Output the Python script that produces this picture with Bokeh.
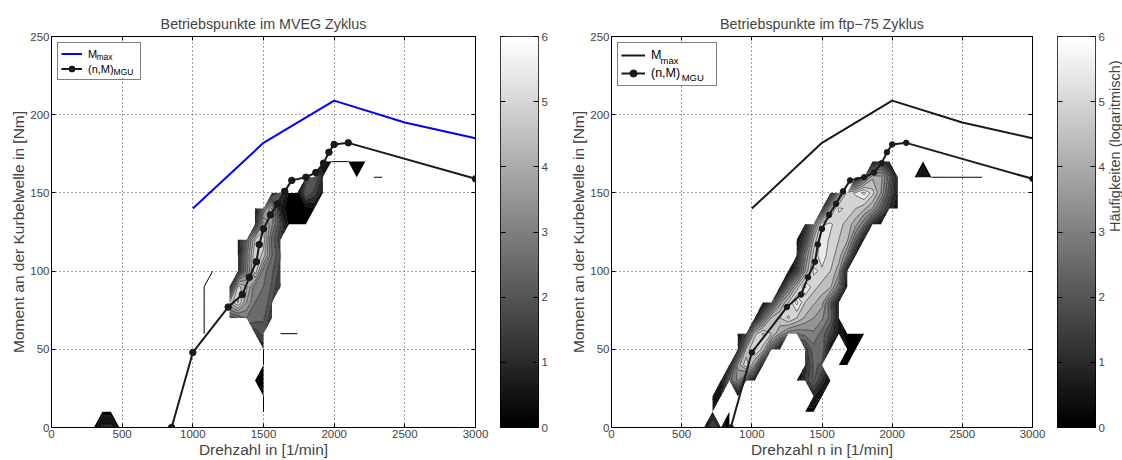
import numpy as np
from bokeh.plotting import figure
from bokeh.layouts import row
from bokeh.core.properties import value
from bokeh.models import (Range1d, FixedTicker, LinearAxis, LinearColorMapper,
                          Legend, LegendItem, BoxAnnotation)
from bokeh.embed import file_html
from bokeh.resources import INLINE

FONT = "Liberation Sans"

# axis ticks
speed_ticks = [0, 500, 1000, 1500, 2000, 2500, 3000]
torque_ticks = [0, 50, 100, 150, 200, 250]
cbar_ticks = [0, 1, 2, 3, 4, 5, 6]

# full-load torque curve
mmax_speed = [1000, 1500, 2000, 2500, 3000]
mmax_torque = [140, 182, 209, 195, 185]

# operating line of the MGU
mgu_speed = [850, 1000, 1250, 1350, 1400, 1450, 1470, 1500, 1550, 1600, 1650,
             1700, 1800, 1870, 1925, 1963, 2000, 2100, 3000]
mgu_torque = [0, 48, 77, 85, 96, 106, 117, 127, 136, 143, 151,
              158, 160, 163, 169, 176, 181, 182, 159]

# histogram bins: 60 rpm x 10 Nm
SPEED_STEP = 60
TORQUE_STEP = 10
speed_bins = np.arange(0, 3000 + SPEED_STEP, SPEED_STEP)
torque_bins = np.arange(0, 250 + TORQUE_STEP, TORQUE_STEP)

# MVEG cycle: log10 frequency per bin, one run of bins per entry
mveg_torque = [0, 10, 10, 20, 30, 40, 50, 60, 60, 60, 70, 70, 80, 80, 90, 90,
               100, 100, 110, 120, 130, 140, 150, 160, 160, 160, 170]
mveg_start = [300, 360, 1500, 1500, 1440, 1500, 1500, 1080, 1440, 1620, 1080, 1260, 1080, 1260, 1080, 1260,
              1140, 1320, 1320, 1320, 1440, 1440, 1560, 1800, 2160, 2280, 1920]
mveg_logh = [
    [0.2, 1.2, 1.2, 0.2],
    [0.3, 0.3],
    [0.3],
    [0.3],
    [0.3, 0.5],
    [0.3],
    [1.0],
    [0.2],
    [1.6, 2.2],
    [0.2, 0.2, 0.2],
    [0.2],
    [2.2, 2.6, 3.0, 2.8, 2.6, 1.6],
    [0.2],
    [4.6, 5.6, 4.0, 3.0, 3.0, 2.0],
    [0.2],
    [1.4, 5.2, 4.6, 3.2, 3.0, 2.4, 1.4],
    [0.2],
    [1.2, 3.2, 5.4, 3.2, 2.6, 1.8],
    [1.0, 3.4, 5.5, 4.8, 3.0, 2.0],
    [1.0, 2.8, 5.0, 5.3, 2.8, 1.6],
    [1.4, 4.8, 3.6, 2.0, 0.3, 0.2, 0.3],
    [0.8, 3.0, 4.6, 0.8, 0.2, 0.1, 0.2, 0.5],
    [1.0, 2.5, 0.3, 0.2, 2.6, 1.8, 0.6],
    [1.6, 2.6, 1.2],
    [0.2],
    [0.2, 0.2],
    [0.3, 0.4, 0.3, 0.3, 0.3, 0.3],
]

# ftp-75 cycle
ftp_torque = [0, 10, 10, 20, 20, 30, 30, 40, 40, 50, 50, 60, 70, 80, 90,
              100, 110, 120, 130, 140, 150, 160, 160, 170, 170]
ftp_start = [660, 720, 1380, 720, 1440, 780, 1320, 840, 1380, 900, 1380, 900, 1020, 1080, 1200,
             1260, 1320, 1320, 1380, 1500, 1560, 1740, 2160, 1860, 2220]
ftp_logh = [
    [0.3, 2.2, 0.8, 0.3],
    [0.8, None, 0.3],
    [0.3, 0.3],
    [0.4, 1.0, None, 0.3],
    [1.0, 0.4],
    [0.5, 2.8, 3.6, 2.0, 0.4],
    [0.3, 1.6, 2.6, 1.4, 0.3],
    [1.0, 4.2, 5.4, 4.0, 1.0],
    [1.2, 2.6, 2.4, None, 0.3, 0.2],
    [1.2, 4.6, 5.6, 4.8, 2.4, 0.6],
    [1.6, 2.8, 3.0, 0.4, None, 0.4, 0.2],
    [0.4, 2.0, 4.8, 5.6, 5.0, 4.0, 3.2, 3.0, 3.2, 3.4, 2.8, 1.8, 0.8, 0.3, 0.5, 0.2],
    [0.6, 2.8, 4.6, 5.0, 5.6, 5.0, 4.4, 4.0, 3.6, 2.8, 0.6],
    [0.4, 1.8, 3.8, 5.0, 6.2, 5.0, 4.6, 4.2, 2.6, 0.6],
    [0.8, 3.0, 4.6, 6.1, 5.2, 4.8, 4.6, 3.2, 0.6],
    [0.3, 1.8, 4.0, 5.6, 5.4, 5.0, 4.2, 0.8],
    [1.0, 3.4, 5.2, 5.8, 5.2, 4.8, 3.4, 0.6],
    [0.3, 2.0, 4.6, 5.8, 5.4, 5.0, 4.6, 2.8, 0.6],
    [1.0, 3.2, 5.4, 5.6, 5.2, 4.8, 4.2, 3.0, 1.2, 0.4],
    [1.6, 4.2, 5.6, 5.4, 5.0, 4.6, 4.0, 2.6, 1.4, 0.6],
    [1.0, 3.4, 5.2, 5.6, 6.2, 5.2, 4.0, 2.2, 0.8],
    [0.8, 2.8, 4.4, 4.2, 2.6, 0.8],
    [0.3, 1.0, 0.3, 0.2, 0.2, 0.2, 0.2, 0.2, 0.2],
    [0.6, 1.8, 0.6],
    [0.3],
]

levels = list(np.arange(0.0, 6.01, 0.5))
band_colors = ["#%02x%02x%02x" % ((int(round(255 * lv / 6)),) * 3) for lv in levels[:-1]]
gray64 = ["#%02x%02x%02x" % ((int(round(255 * k / 63)),) * 3) for k in range(64)]


def build_grid(torques, starts, values):
    z = np.full((len(torque_bins), len(speed_bins)), np.nan)
    for m, n0, vals in zip(torques, starts, values):
        i = int(round(m / TORQUE_STEP))
        j0 = int(round(n0 / SPEED_STEP))
        for k, v in enumerate(vals):
            if v is not None:
                z[i, j0 + k] = v
    return z


def stray_segments(z):
    """Bin chains that enclose no area; contourf shows them as plain lines."""
    ok = ~np.isnan(z)
    ny, nx = z.shape

    def count(i, j):
        if i < 0 or j < 0 or i >= ny - 1 or j >= nx - 1:
            return 0
        return int(ok[i, j]) + int(ok[i + 1, j]) + int(ok[i, j + 1]) + int(ok[i + 1, j + 1])

    def in_area(i, j):
        return any(count(a, b) >= 3 for a in (i - 1, i) for b in (j - 1, j))

    xs, ys = [], []
    for i in range(ny):
        for j in range(nx - 1):
            if ok[i, j] and ok[i, j + 1] and count(i - 1, j) < 3 and count(i, j) < 3:
                xs.append([speed_bins[j], speed_bins[j + 1]])
                ys.append([torque_bins[i], torque_bins[i]])
    for i in range(ny - 1):
        for j in range(nx):
            if ok[i, j] and ok[i + 1, j] and count(i, j - 1) < 3 and count(i, j) < 3:
                xs.append([speed_bins[j], speed_bins[j]])
                ys.append([torque_bins[i], torque_bins[i + 1]])
    for i in range(ny - 1):
        for j in range(nx - 1):
            if count(i, j) != 2:
                continue
            if ok[i, j] and ok[i + 1, j + 1] and not (in_area(i, j) or in_area(i + 1, j + 1)):
                xs.append([speed_bins[j], speed_bins[j + 1]])
                ys.append([torque_bins[i], torque_bins[i + 1]])
            elif ok[i + 1, j] and ok[i, j + 1] and not (in_area(i + 1, j) or in_area(i, j + 1)):
                xs.append([speed_bins[j], speed_bins[j + 1]])
                ys.append([torque_bins[i + 1], torque_bins[i]])
    return xs, ys


def make_panel(title, xlabel, z, mmax_color, marker_size, border_left, frame_w,
               leg, sub_max, sub_mgu, sub_size):
    p = figure(frame_width=frame_w, frame_height=391, output_backend="svg", toolbar_location=None,
               x_range=Range1d(0, 3000), y_range=Range1d(0, 250),
               min_border_left=border_left, min_border_top=36, min_border_bottom=33,
               min_border_right=25, background_fill_color="white",
               border_fill_color="white")
    p.title.text = title
    p.title.align = "center"
    p.title.text_font = FONT
    p.title.text_font_size = "14.3px"
    p.title.text_font_style = "normal"
    p.title.standoff = 9

    p.outline_line_color = "black"
    p.outline_line_width = 1
    p.outline_line_alpha = 1

    for ax, ticks in ((p.xaxis[0], speed_ticks), (p.yaxis[0], torque_ticks)):
        ax.ticker = FixedTicker(ticks=ticks)
        ax.major_tick_in = 4
        ax.major_tick_out = 0
        ax.minor_tick_line_color = None
        ax.axis_line_color = None
        ax.major_label_text_font = FONT
        ax.major_label_text_font_size = "11.5px"
        ax.axis_label_text_font = FONT
        ax.axis_label_text_font_size = "15.5px"
        ax.axis_label_text_font_style = "normal"
        ax.major_label_standoff = 2
        ax.axis_label_standoff = 0
    p.xaxis.axis_label = xlabel
    p.yaxis.axis_label = "Moment an der Kurbelwelle in [Nm]"

    p.add_layout(LinearAxis(ticker=FixedTicker(ticks=speed_ticks), major_tick_in=4,
                            major_tick_out=0, minor_tick_line_color=None,
                            axis_line_color=None, major_label_text_color=None), "above")
    p.add_layout(LinearAxis(ticker=FixedTicker(ticks=torque_ticks), major_tick_in=4,
                            major_tick_out=0, minor_tick_line_color=None,
                            axis_line_color=None, major_label_text_color=None), "right")

    p.xgrid.ticker = FixedTicker(ticks=speed_ticks)
    p.ygrid.ticker = FixedTicker(ticks=torque_ticks)
    p.grid.grid_line_color = "#444444"
    p.grid.grid_line_dash = "1 3"
    p.grid.grid_line_width = 1

    # white backing of the legend box (keeps the dotted grid out of it)
    p.add_layout(BoxAnnotation(left=leg["box"][0], right=leg["box"][1],
                               bottom=leg["box"][2], top=leg["box"][3],
                               fill_color="white", fill_alpha=1, line_color=None,
                               level="underlay"))

    cr = p.contour(x=speed_bins, y=torque_bins, z=z, levels=levels,
                   fill_color=band_colors, line_color="black", line_width=0.5)
    cr.fill_renderer.glyph.line_color = "black"
    cr.fill_renderer.glyph.line_width = 0.5

    sx, sy = stray_segments(z)
    p.multi_line(sx, sy, line_color="black", line_width=1)

    r_max = p.line(mmax_speed, mmax_torque, line_color=mmax_color, line_width=2)
    r_mgu = p.line(mgu_speed, mgu_torque, line_color="#1a1a1a", line_width=2)
    r_pts = p.scatter(mgu_speed, mgu_torque, size=marker_size, fill_color="#1a1a1a",
                      line_color="#1a1a1a")

    opts = {k: v for k, v in leg.items() if k != "box"}
    legend = Legend(items=[LegendItem(label="M", renderers=[r_max]),
                           LegendItem(label="(n,M)", renderers=[r_mgu, r_pts])],
                    location="top_left", spacing=0, border_line_color="black",
                    border_line_width=1, background_fill_alpha=0,
                    label_text_font=FONT, label_text_color="black", **opts)
    p.add_layout(legend)
    # subscripts of the legend entries
    p.text(x=[sub_max[0], sub_mgu[0]], y=[sub_max[1], sub_mgu[1]], text=["max", "MGU"],
           text_font=value(FONT), text_font_size=value(sub_size), text_color="black",
           text_baseline="middle", text_align="left")
    return p


def make_colorbar(label):
    mapper = LinearColorMapper(palette=gray64, low=0, high=6)
    c = figure(frame_width=38, frame_height=391, output_backend="svg", toolbar_location=None,
               x_range=Range1d(0, 1), y_range=Range1d(0, 6),
               min_border_left=0, min_border_top=36, min_border_bottom=33,
               min_border_right=23 if label is None else 27,
               background_fill_color="white", border_fill_color="white")
    c.image(image=[np.linspace(0, 6, 64).reshape(64, 1)], x=0, y=0, dw=1, dh=6,
            color_mapper=mapper)
    c.xaxis.visible = False
    c.yaxis.visible = False
    c.grid.visible = False
    c.outline_line_color = "black"
    c.outline_line_alpha = 1
    c.add_layout(LinearAxis(ticker=FixedTicker(ticks=cbar_ticks), major_tick_in=5,
                            major_tick_out=0, minor_tick_line_color=None,
                            axis_line_color=None, major_label_text_color=None), "left")
    ax = LinearAxis(ticker=FixedTicker(ticks=cbar_ticks), major_tick_in=5, major_tick_out=0,
                    minor_tick_line_color=None, axis_line_color=None,
                    major_label_text_font=FONT, major_label_text_font_size="11.5px",
                    major_label_standoff=3)
    if label is not None:
        ax.axis_label = label
        ax.axis_label_text_font = FONT
        ax.axis_label_text_font_size = "14.5px"
        ax.axis_label_text_font_style = "normal"
        ax.axis_label_standoff = 7
        if "axis_label_orientation" in LinearAxis.properties():
            ax.axis_label_orientation = np.pi / 2
    c.add_layout(ax, "right")
    return c


z_mveg = build_grid(mveg_torque, mveg_start, mveg_logh)
z_ftp = build_grid(ftp_torque, ftp_start, ftp_logh)

leg_left = dict(margin=6, padding=3, glyph_width=21, glyph_height=15, label_height=15,
                label_width=49, label_standoff=6, label_text_font_size="11px",
                box=(45, 620, 223.5, 246))
leg_right = dict(margin=6, padding=3, glyph_width=24, glyph_height=18, label_height=18,
                 label_width=62, label_standoff=6, label_text_font_size="12.5px",
                 box=(46, 738, 219.6, 246))

p1 = make_panel("Betriebspunkte im MVEG Zyklus", "Drehzahl in [1/min]", z_mveg,
                "#0000ff", 6.5, 51, 424, leg_left, (318, 236.8), (439, 227.6), "8.5px")
c1 = make_colorbar(None)
p2 = make_panel("Betriebspunkte im ftp\u221275 Zyklus", "Drehzahl n in [1/min]", z_ftp,
                "#1a1a1a", 5.5, 50, 421, leg_right, (350, 234.7), (500, 223.6), "9.5px")
c2 = make_colorbar("H\u00e4ufigkeiten (logaritmisch)")

layout = row(p1, c1, p2, c2, spacing=0)
open("out.html", "w").write(file_html(layout, INLINE))
